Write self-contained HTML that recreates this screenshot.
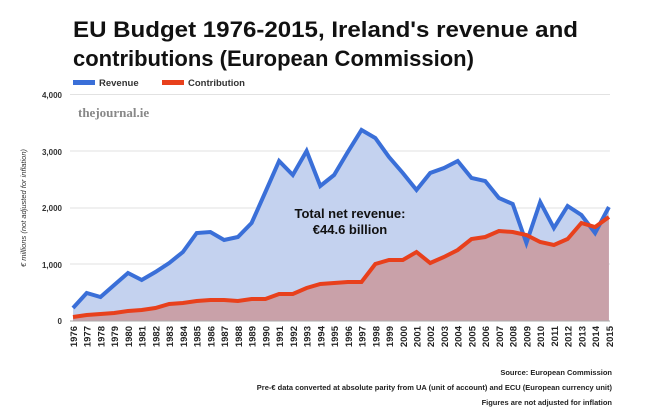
<!DOCTYPE html>
<html><head><meta charset="utf-8"><style>
body{margin:0;background:#fff;}
svg{display:block;font-family:"Liberation Sans",Arial,sans-serif;}
</style></head><body>
<svg id="s" width="650" height="420" viewBox="0 0 650 420" xmlns="http://www.w3.org/2000/svg">
<text x="73" y="37" font-size="22" font-weight="bold" fill="#111" textLength="505" lengthAdjust="spacingAndGlyphs">EU Budget 1976-2015, Ireland's revenue and</text>
<text x="73" y="66" font-size="22" font-weight="bold" fill="#111">contributions (European Commission)</text>
<rect x="73" y="80" width="22" height="5" fill="#3a6fd8"/>
<text x="99" y="86" font-size="9.5" font-weight="bold" fill="#333">Revenue</text>
<rect x="162" y="80" width="22" height="5" fill="#e8401c"/>
<text x="188" y="86" font-size="9.5" font-weight="bold" fill="#333">Contribution</text>
<g stroke="#e2e2e2" stroke-width="1">
<line x1="70" x2="610" y1="94.5" y2="94.5"/><line x1="70" x2="610" y1="151" y2="151"/>
<line x1="70" x2="610" y1="208" y2="208"/><line x1="70" x2="610" y1="264" y2="264"/>
</g>
<g id="areas"></g>
<line x1="70" x2="610" y1="321" y2="321" stroke="#aaa"/>
<g font-size="8" font-weight="bold" fill="#333" text-anchor="end">
<text x="62" y="98">4,000</text><text x="62" y="155">3,000</text><text x="62" y="211">2,000</text><text x="62" y="268">1,000</text><text x="62" y="324">0</text>
</g>
<text transform="translate(26,208) rotate(-90)" font-size="7.5" font-style="italic" fill="#333" text-anchor="middle">€ millions (not adjusted for inflation)</text>
<text x="78" y="117" font-size="13" font-family="Liberation Serif,serif" font-weight="bold" fill="#888">thejournal.ie</text>
<text x="350" y="218" font-size="13" font-weight="bold" fill="#111" text-anchor="middle">Total net revenue:</text>
<text x="350" y="234" font-size="13" font-weight="bold" fill="#111" text-anchor="middle">€44.6 billion</text>
<g id="xl" font-size="9.5" font-weight="bold" fill="#222" text-anchor="end">
<text transform="translate(77,326) rotate(-90)">1976</text>
<text transform="translate(90.7,326) rotate(-90)">1977</text>
<text transform="translate(104.5,326) rotate(-90)">1978</text>
<text transform="translate(118.2,326) rotate(-90)">1979</text>
<text transform="translate(132,326) rotate(-90)">1980</text>
<text transform="translate(145.7,326) rotate(-90)">1981</text>
<text transform="translate(159.4,326) rotate(-90)">1982</text>
<text transform="translate(173.2,326) rotate(-90)">1983</text>
<text transform="translate(186.9,326) rotate(-90)">1984</text>
<text transform="translate(200.7,326) rotate(-90)">1985</text>
<text transform="translate(214.4,326) rotate(-90)">1986</text>
<text transform="translate(228.1,326) rotate(-90)">1987</text>
<text transform="translate(241.9,326) rotate(-90)">1988</text>
<text transform="translate(255.6,326) rotate(-90)">1989</text>
<text transform="translate(269.4,326) rotate(-90)">1990</text>
<text transform="translate(283.1,326) rotate(-90)">1991</text>
<text transform="translate(296.8,326) rotate(-90)">1992</text>
<text transform="translate(310.6,326) rotate(-90)">1993</text>
<text transform="translate(324.3,326) rotate(-90)">1994</text>
<text transform="translate(338.1,326) rotate(-90)">1995</text>
<text transform="translate(351.8,326) rotate(-90)">1996</text>
<text transform="translate(365.5,326) rotate(-90)">1997</text>
<text transform="translate(379.3,326) rotate(-90)">1998</text>
<text transform="translate(393,326) rotate(-90)">1999</text>
<text transform="translate(406.8,326) rotate(-90)">2000</text>
<text transform="translate(420.5,326) rotate(-90)">2001</text>
<text transform="translate(434.2,326) rotate(-90)">2002</text>
<text transform="translate(448,326) rotate(-90)">2003</text>
<text transform="translate(461.7,326) rotate(-90)">2004</text>
<text transform="translate(475.5,326) rotate(-90)">2005</text>
<text transform="translate(489.2,326) rotate(-90)">2006</text>
<text transform="translate(502.9,326) rotate(-90)">2007</text>
<text transform="translate(516.7,326) rotate(-90)">2008</text>
<text transform="translate(530.4,326) rotate(-90)">2009</text>
<text transform="translate(544.2,326) rotate(-90)">2010</text>
<text transform="translate(557.9,326) rotate(-90)">2011</text>
<text transform="translate(571.6,326) rotate(-90)">2012</text>
<text transform="translate(585.4,326) rotate(-90)">2013</text>
<text transform="translate(599.1,326) rotate(-90)">2014</text>
<text transform="translate(612.9,326) rotate(-90)">2015</text>
</g>
<g font-size="7.5" font-weight="bold" fill="#222" text-anchor="end">
<text x="612" y="375">Source: European Commission</text>
<text x="612" y="390">Pre-€ data converted at absolute parity from UA (unit of account) and ECU (European currency unit)</text>
<text x="612" y="405">Figures are not adjusted for inflation</text>
</g>
</svg>
<script>
var rev=[308,293,297,285,273,280,272,263,252,233,232,240,237,223,192,161,175,151,186,175,152,130,138,157,173,190,173,168,161,178,181,198,204,243,202,228,206,215,233,207];
var con=[317,315,314,313,311,310,308,304,303,301,300,300,301,299,299,294,294,288,284,283,282,282,264,260,260,252,263,257,250,239,237,231,232,235,242,245,239,223,227,217];
function pts(a){return a.map(function(y,i){return (73+13.74*i).toFixed(1)+","+y;}).join(" ");}
var g=document.getElementById("areas"),ns="http://www.w3.org/2000/svg";
function el(t,at){var e=document.createElementNS(ns,t);for(var k in at)e.setAttribute(k,at[k]);g.appendChild(e);}
el("polygon",{points:"73,321 "+pts(rev)+" 608.9,321",fill:"#c4d2ef"});
el("polygon",{points:"73,321 "+pts(con)+" 608.9,321",fill:"#c9a1a9"});
el("polyline",{points:pts(rev),fill:"none",stroke:"#3a6fd8","stroke-width":"4","stroke-linejoin":"miter"});
el("polyline",{points:pts(con),fill:"none",stroke:"#e8401c","stroke-width":"4"});
</script>
</body></html>
